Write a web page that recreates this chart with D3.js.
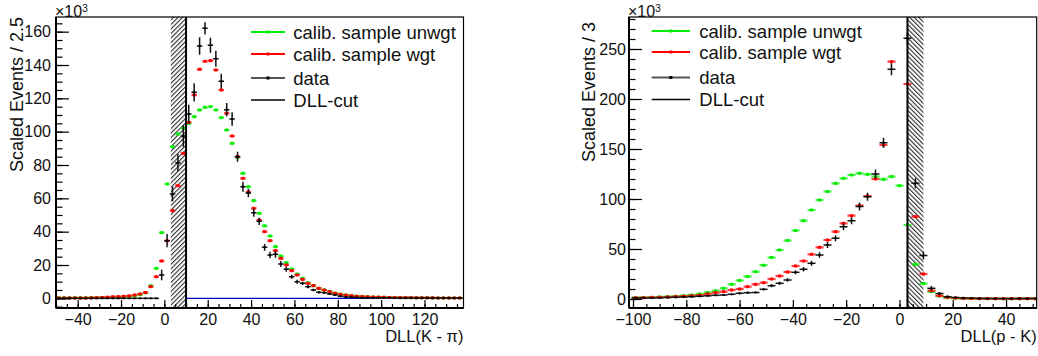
<!DOCTYPE html>
<html>
<head>
<meta charset="UTF-8">
<title>DLL calibration comparison</title>
<style>
  body { margin: 0; background: #fff; }
  svg { display: block; font-family: "Liberation Sans", Arial, Helvetica, sans-serif; }
</style>
</head>
<body>
<svg width="1038" height="356"></svg>
<script src="https://cdn.jsdelivr.net/npm/d3@7/dist/d3.min.js"></script>
<script>

// ---- left panel: DLL(K - pi), bins of 2.5 ----
let kpiBins = [
  -48.75, -46.25, -43.75, -41.25, -38.75, -36.25, -33.75, -31.25, -28.75, -26.25,
  -23.75, -21.25, -18.75, -16.25, -13.75, -11.25, -8.75, -6.25, -3.75, -1.25,
  1.25, 3.75, 6.25, 8.75, 11.25, 13.75, 16.25, 18.75, 21.25, 23.75,
  26.25, 28.75, 31.25, 33.75, 36.25, 38.75, 41.25, 43.75, 46.25, 48.75,
  51.25, 53.75, 56.25, 58.75, 61.25, 63.75, 66.25, 68.75, 71.25, 73.75,
  76.25, 78.75, 81.25, 83.75, 86.25, 88.75, 91.25, 93.75, 96.25, 98.75,
  101.25, 103.75, 106.25, 108.75, 111.25, 113.75, 116.25, 118.75, 121.25, 123.75,
  126.25, 128.75, 131.25, 133.75, 136.25];
let kpiUnwgt = [
  0.3, 0.3, 0.3, 0.3, 0.3, 0.3, 0.4, 0.4, 0.5, 0.5,
  0.6, 0.7, 0.9, 1.1, 1.5, 2.2, 3.3, 7.5, 18, 39.4,
  68.6, 91, 98.6, 102.2, 105, 109, 113, 114.6, 115, 113,
  108.4, 101, 93, 84.5, 75, 67, 58.6, 51, 43.5, 37.4,
  31, 25.4, 21.4, 17.6, 14.6, 12, 9.3, 7.6, 6, 5,
  4, 3.1, 2.5, 2, 1.6, 1.3, 1.1, 0.9, 0.8, 0.7,
  0.6, 0.5, 0.5, 0.4, 0.4, 0.4, 0.3, 0.3, 0.3, 0.2,
  0.2, 0.2, 0.2, 0.2, 0.2];
let kpiWgt = [
  0.2, 0.2, 0.2, 0.2, 0.2, 0.2, 0.3, 0.4, 0.5, 0.7,
  0.9, 1.0, 1.2, 1.5, 2.0, 2.6, 3.5, 7, 13, 22.4,
  34.5, 52.6, 67.6, 87, 105.6, 122, 137.4, 142.2, 142.6, 137,
  125, 111, 97.4, 85, 72, 63.8, 54, 47, 40, 34.6,
  28.6, 24, 20, 16.6, 14, 11.4, 9, 7.6, 6, 5,
  4, 3, 2.4, 1.9, 1.5, 1.2, 1, 0.9, 0.8, 0.7,
  0.6, 0.5, 0.5, 0.4, 0.4, 0.4, 0.3, 0.3, 0.3, 0.3,
  0.2, 0.2, 0.2, 0.2, 0.2];
let kpiData = [
  0, 0, 0, 0, 0, 0, 0, 0, 0, 0,
  0, 0, 0, 0, 0, 0, 0, 0, 0, 14,
  34.6, 62.6, 81.4, 97.4, 110.6, 123.6, 151.4, 162, 151.8, 143.8,
  130.2, 113.2, 107.6, 85, 67, 63.2, 51.4, 46.2, 30.6, 26,
  26.4, 20.6, 17.4, 13, 10, 9, 7, 5, 3.6, 3.4,
  2.6, 2, 1.2, 0.8, 0.6, 0.5, 0.4, 0.3, 0.3, 0.3,
  0.3, 0.3, 0.2, 0.2, 0.2, 0.2, 0.2, 0.2, 0.2, 0.2,
  0.2, 0.2, 0.2, 0.2, 0.2];
let kpiDataErr = [
  0, 0, 0, 0, 0, 0, 0, 0, 0, 0,
  0, 0, 0, 0, 0, 0, 0, 0, 0, 3.2,
  4, 4.3, 5, 6.5, 5.5, 5.5, 5.3, 3.7, 4.5, 4.8,
  4.5, 4, 4, 3, 3, 2.5, 2.5, 2.2, 2, 2,
  2, 1.8, 1.5, 1.2, 1.2, 1, 0.9, 0.8, 0.7, 0.6,
  0.5, 0.5, 0.4, 0.4, 0.3, 0.3, 0.3, 0.3, 0.3, 0.3,
  0.3, 0.3, 0.3, 0.3, 0.3, 0.3, 0.3, 0.3, 0.3, 0.3,
  0.3, 0.3, 0.3, 0.3, 0.3];
let kpiXTicks = [-40, -20, 0, 20, 40, 60, 80, 100, 120];
let kpiYTicks = [0, 20, 40, 60, 80, 100, 120, 140, 160];

// ---- right panel: DLL(p - K), bins of 3 ----
let pkBins = [
  -99, -96, -93, -90, -87, -84, -81, -78, -75, -72,
  -69, -66, -63, -60, -57, -54, -51, -48, -45, -42,
  -39, -36, -33, -30, -27, -24, -21, -18, -15, -12,
  -9, -6, -3, 0, 3, 6, 9, 12, 15, 18,
  21, 24, 27, 30, 33, 36, 39, 42, 45, 48,
  51];
let pkUnwgt = [
  1.3, 1.5, 1.7, 2, 2.3, 2.7, 3.3, 4, 5, 6.5,
  8.2, 10.7, 14.7, 18.5, 22.5, 27.3, 33.8, 41.5, 49, 58.5,
  68.5, 78.3, 89, 99, 107.5, 115.7, 120.7, 124, 125.7, 124.7,
  122.3, 119.7, 122.3, 113.3, 74, 34.7, 15.5, 7.3, 3, 1.3,
  0.8, 0.6, 0.5, 0.4, 0.4, 0.3, 0.3, 0.3, 0.3, 0.3,
  0.3];
let pkWgt = [
  1.2, 1.3, 1.5, 1.7, 2, 2.3, 2.7, 3.2, 3.8, 5,
  6.3, 7.3, 9, 10, 12.3, 14.7, 16.3, 20, 23, 27,
  33, 38, 44.7, 51.7, 59, 67.3, 75.7, 83.3, 93.3, 103,
  120, 154, 237.3, null, 215, 82.3, 25, 8.3, 3.3, 1.7,
  1, 0.7, 0.5, 0.4, 0.4, 0.3, 0.3, 0.3, 0.3, 0.3,
  0.3];
let pkData = [
  1, 1, 1, 1.2, 1.5, 1.7, 2, 2.3, 2.7, 3.2,
  3.7, 4, 4.7, 5.7, 6.3, 6.5, 9.7, 13.3, 15.7, 19,
  26.7, 29.7, 35.7, 44, 54, 60.7, 72.3, 78.3, 92.5, 102.3,
  125, 156.3, 229.7, null, 260.7, 115.7, 43.5, 10.7, 5.5, 2.3,
  1.5, 1, 0.8, 0.6, 0.5, 0.5, 0.4, 0.4, 0.4, 0.4,
  0.4];
let pkDataErr = [
  0.5, 0.5, 0.5, 0.5, 0.5, 0.5, 0.5, 0.5, 0.5, 0.5,
  0.7, 0.8, 0.8, 1, 1, 1, 1.2, 1.5, 1.5, 1.8,
  2, 2.2, 2.5, 2.8, 3, 3, 3.5, 3.5, 4, 4,
  4.5, 5, 6, 0, 6, 5, 4, 2.5, 1.5, 1,
  0.5, 0.5, 0.5, 0.5, 0.5, 0.5, 0.5, 0.5, 0.5, 0.5,
  0.5];
let pkXTicks = [-100, -80, -60, -40, -20, 0, 20, 40];
let pkYTicks = [0, 50, 100, 150, 200, 250];

let legendLabels = ["calib. sample unwgt", "calib. sample wgt", "data", "DLL-cut"];

let svg = d3.select("svg");
let defs = svg.append("defs");

function hatchPattern(id, angle) {
    let p = defs.append("pattern")
        .attr("id", id)
        .attr("patternUnits", "userSpaceOnUse")
        .attr("width", 3.2).attr("height", 10)
        .attr("patternTransform", "rotate(" + angle + ")");
    p.append("line")
        .attr("x1", 0.6).attr("y1", 0).attr("x2", 0.6).attr("y2", 10)
        .attr("stroke", "#000").attr("stroke-width", 0.9);
}
hatchPattern("hatchL", 45);
hatchPattern("hatchR", -45);

function drawPanel(c) {
    let x = d3.scaleLinear().domain(c.xDomain).range([c.left, c.right]);
    let y = d3.scaleLinear().domain(c.yDomain).range([c.bottom, c.top]);
    let g = svg.append("g");

    defs.append("clipPath").attr("id", c.id + "clip")
        .append("rect")
        .attr("x", c.left).attr("y", c.top)
        .attr("width", c.right - c.left).attr("height", c.bottom - c.top);

    let plot = g.append("g").attr("clip-path", "url(#" + c.id + "clip)");

    // hatched cut region
    plot.append("rect")
        .attr("x", x(c.hatch[0])).attr("y", c.top)
        .attr("width", x(c.hatch[1]) - x(c.hatch[0]))
        .attr("height", c.bottom - c.top)
        .attr("fill", "url(#" + c.hatchId + ")");

    if (c.blueFrom != null) {
        plot.append("line")
            .attr("x1", x(c.blueFrom)).attr("x2", c.right)
            .attr("y1", y(0)).attr("y2", y(0))
            .attr("stroke", "#0000c8").attr("stroke-width", 1.4);
    }

    let hw = c.binWidth / 2;
    let inRange = v => v != null && v <= c.yDomain[1];

    // calibration samples
    [[c.unwgt, "#00ee00"], [c.wgt, "#ff0000"]].forEach(([vals, col]) => {
        let s = plot.append("g");
        c.bins.forEach((b, i) => {
            if (!inRange(vals[i])) return;
            s.append("line")
                .attr("x1", x(b - hw)).attr("x2", x(b + hw))
                .attr("y1", y(vals[i])).attr("y2", y(vals[i]))
                .attr("stroke", col).attr("stroke-width", 2.2)
                .attr("stroke-opacity", 0.75);
            s.append("rect")
                .attr("x", x(b) - 1.5).attr("y", y(vals[i]) - 1.5)
                .attr("width", 3).attr("height", 3)
                .attr("fill", col);
        });
    });

    // data points with error bars
    let d = plot.append("g");
    c.bins.forEach((b, i) => {
        let v = c.data[i];
        if (!inRange(v)) return;
        d.append("line")
            .attr("x1", x(b - hw)).attr("x2", x(b + hw))
            .attr("y1", y(v)).attr("y2", y(v))
            .attr("stroke", "#111").attr("stroke-width", 1.5);
        if (c.err[i] > 0) {
            d.append("line")
                .attr("x1", x(b)).attr("x2", x(b))
                .attr("y1", y(v - c.err[i])).attr("y2", y(v + c.err[i]))
                .attr("stroke", "#111").attr("stroke-width", 1.5);
        }
        d.append("circle")
            .attr("cx", x(b)).attr("cy", y(v)).attr("r", 1.1)
            .attr("fill", "#000");
    });

    // DLL cut
    plot.append("line")
        .attr("x1", x(c.cut)).attr("x2", x(c.cut))
        .attr("y1", c.top).attr("y2", c.bottom)
        .attr("stroke", "#000").attr("stroke-width", 2);

    // frame
    g.append("rect")
        .attr("x", c.left).attr("y", c.top)
        .attr("width", c.right - c.left).attr("height", c.bottom - c.top)
        .attr("fill", "none").attr("stroke", "#000").attr("stroke-width", 1.2);

    // axes, ticks pointing inwards
    let xMinor = d3.range(c.xMinor[0], c.xDomain[1], c.xMinor[1]);
    let yMinor = d3.range(c.yMinor[0], c.yDomain[1], c.yMinor[1]);

    let xa = g.append("g").attr("transform", "translate(0," + c.bottom + ")");
    xa.call(d3.axisBottom(x).tickValues(xMinor).tickSize(-4).tickFormat(""));
    xa.append("g").call(d3.axisBottom(x).tickValues(c.xTicks).tickSize(-8).tickPadding(6));

    let ya = g.append("g").attr("transform", "translate(" + c.left + ",0)");
    ya.call(d3.axisLeft(y).tickValues(yMinor).tickSize(-6.5).tickFormat(""));
    ya.append("g").call(d3.axisLeft(y).tickValues(c.yTicks).tickSize(-13).tickPadding(c.yPad));

    g.selectAll(".domain").remove();
    g.selectAll(".tick line").attr("stroke", "#000").attr("stroke-width", 1.2);
    g.selectAll(".tick text")
        .attr("font-family", "Liberation Sans, Arial, sans-serif")
        .attr("font-size", 16).attr("fill", "#111");

    g.append("line")
        .attr("x1", c.left).attr("x2", c.left).attr("y1", c.top).attr("y2", c.bottom)
        .attr("stroke", "#000").attr("stroke-width", 2);
    g.append("line")
        .attr("x1", c.left).attr("x2", c.right).attr("y1", c.bottom).attr("y2", c.bottom)
        .attr("stroke", "#000").attr("stroke-width", 2);

    // titles
    g.append("text")
        .attr("x", c.right).attr("y", 342)
        .attr("text-anchor", "end").attr("font-size", 16.5).attr("fill", "#111")
        .text(c.xTitle);
    g.append("text")
        .attr("transform", "translate(" + c.yTitleX + "," + c.yTitleTop + ") rotate(-90)")
        .attr("text-anchor", "end").attr("font-size", 18).attr("fill", "#111")
        .text(c.yTitle);
    let e = g.append("text")
        .attr("x", c.left - 1).attr("y", 16.5)
        .attr("font-size", 16).attr("fill", "#111");
    e.append("tspan").text("\u00d710");
    e.append("tspan").attr("font-size", 10).attr("dy", -5).text("3");

    // legend
    let lg = g.append("g");
    let styles = [
        {col: "#00ee00", w: 2, mark: true},
        {col: "#ff0000", w: 2, mark: true},
        {col: "#555", w: 2.2, mark: true, dot: true},
        {col: "#000", w: 1.6, mark: false}
    ];
    legendLabels.forEach((lab, i) => {
        let ly = c.legendY[i];
        let st = styles[i];
        lg.append("line")
            .attr("x1", c.legendX[0]).attr("x2", c.legendX[1])
            .attr("y1", ly).attr("y2", ly)
            .attr("stroke", st.col).attr("stroke-width", st.w);
        if (st.mark) {
            lg.append("rect")
                .attr("x", (c.legendX[0] + c.legendX[1]) / 2 - 1.5).attr("y", ly - 1.5)
                .attr("width", 3).attr("height", 3)
                .attr("fill", st.dot ? "#000" : st.col);
        }
        lg.append("text")
            .attr("x", c.legendX[2]).attr("y", ly + 6.5)
            .attr("font-size", 18.5).attr("fill", "#111")
            .text(lab);
    });
}

drawPanel({
    id: "kpi", left: 56, right: 463.5, top: 17, bottom: 308,
    xDomain: [-50, 138], yDomain: [-5.8, 168.8],
    bins: kpiBins, binWidth: 2.5,
    unwgt: kpiUnwgt, wgt: kpiWgt, data: kpiData, err: kpiDataErr,
    xTicks: kpiXTicks, yTicks: kpiYTicks,
    xMinor: [-50, 5], yMinor: [-5, 5], yPad: 5,
    cut: 10, hatch: [3, 10], hatchId: "hatchL", blueFrom: 10,
    xTitle: "DLL(K - \u03c0)", yTitle: "Scaled Events / 2.5",
    yTitleX: 23, yTitleTop: 17,
    legendX: [251, 285, 293.3], legendY: [32, 54, 78, 100]
});

drawPanel({
    id: "pk", left: 629, right: 1036.7, top: 17, bottom: 308,
    xDomain: [-101.5, 51.5], yDomain: [-9, 282],
    bins: pkBins, binWidth: 3,
    unwgt: pkUnwgt, wgt: pkWgt, data: pkData, err: pkDataErr,
    xTicks: pkXTicks, yTicks: pkYTicks,
    xMinor: [-100, 5], yMinor: [0, 10], yPad: 3,
    cut: 3, hatch: [3, 9], hatchId: "hatchR", blueFrom: null,
    xTitle: "DLL(p - K)", yTitle: "Scaled Events / 3",
    yTitleX: 595, yTitleTop: 22,
    legendX: [651.7, 690, 699.3], legendY: [31, 52, 77.5, 99.5]
});

</script>
</body>
</html>
